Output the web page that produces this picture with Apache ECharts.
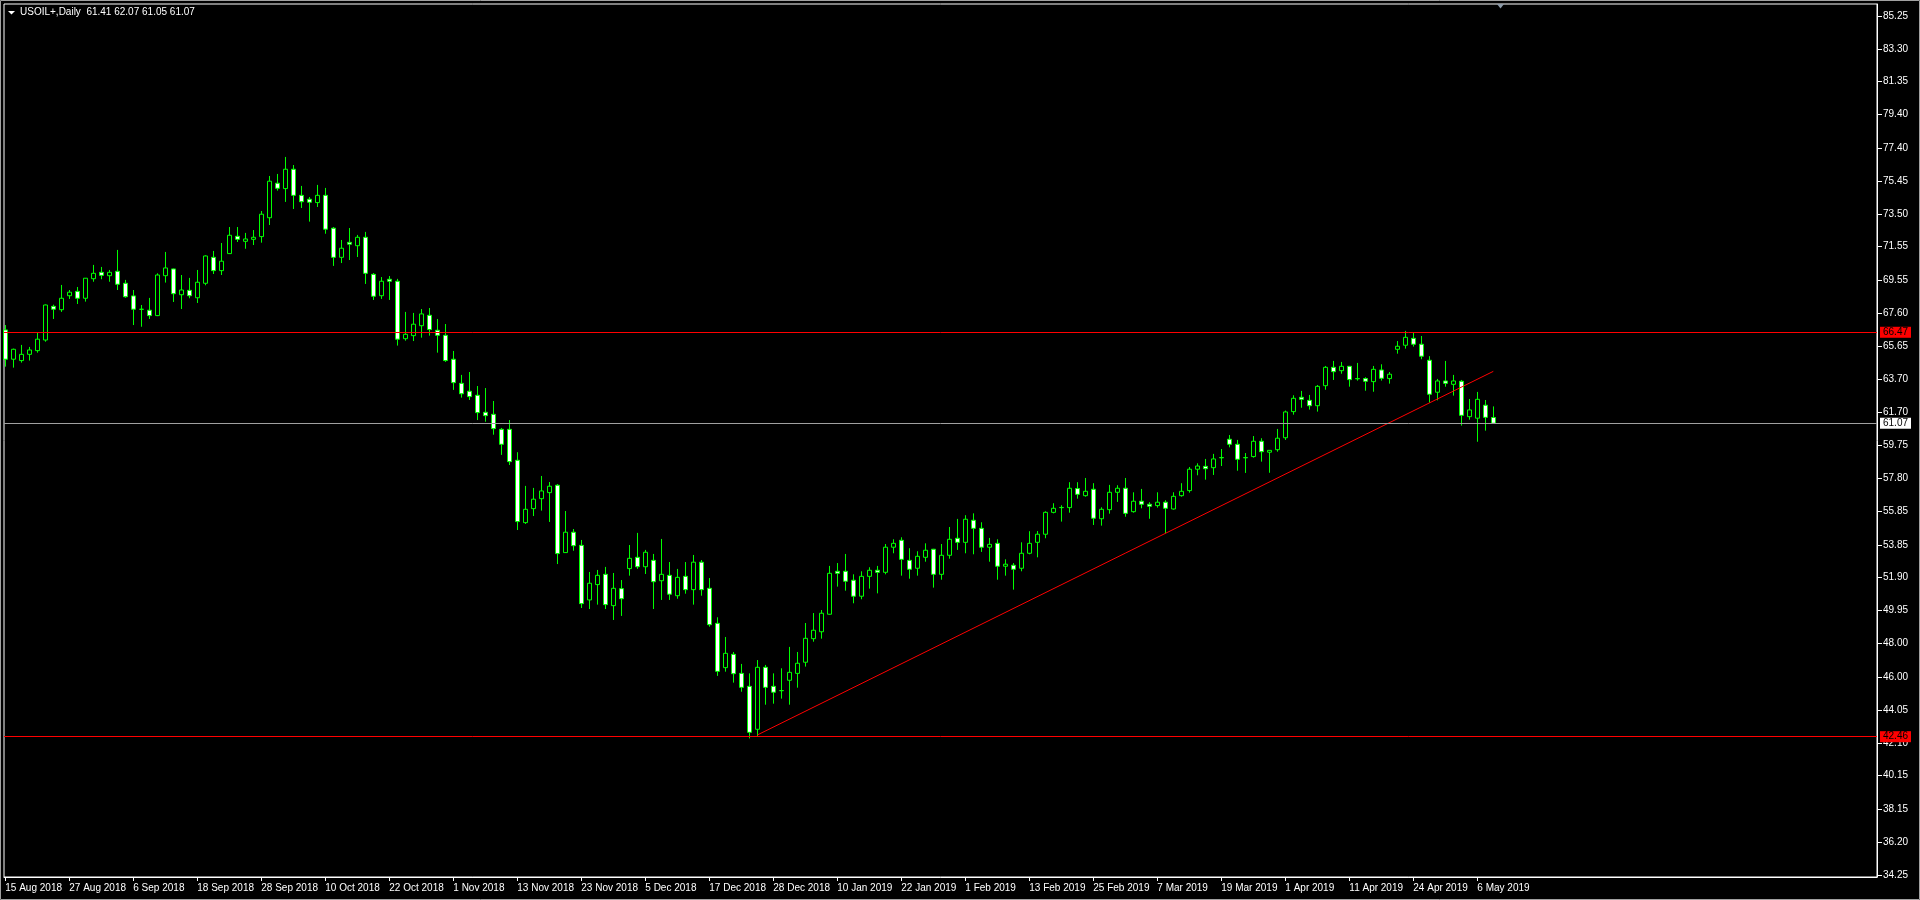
<!DOCTYPE html>
<html><head><meta charset="utf-8">
<script src="https://cdn.jsdelivr.net/npm/echarts@6/dist/echarts.min.js"></script>
<style>html,body{margin:0;padding:0;background:#000;}#c{width:1920px;height:900px;}</style>
</head><body><div id="c"></div>
<script>
const openP = [66.61,64.87,64.79,65.16,65.38,66.01,68.01,67.81,68.64,68.90,68.49,69.65,70.03,69.83,70.09,69.38,68.63,67.84,67.78,67.46,
69.83,70.23,68.70,68.96,68.52,69.38,70.92,70.13,71.14,72.17,71.87,71.99,72.15,73.27,75.32,75.00,76.15,74.60,74.37,74.17,
74.60,72.65,70.92,71.81,71.61,72.11,69.91,68.64,69.62,69.50,66.09,66.27,66.86,67.48,66.59,66.29,64.87,63.44,62.97,62.73,
61.72,61.60,60.71,60.71,58.87,55.17,56.00,56.59,56.95,57.39,53.39,54.60,53.82,50.58,51.49,52.10,50.24,51.25,52.44,53.11,
52.55,52.93,51.72,52.04,50.83,51.98,51.19,52.82,51.27,49.19,46.56,47.35,46.22,45.45,42.90,46.58,45.45,45.19,45.81,46.22,
46.88,48.28,48.69,49.73,52.28,52.28,51.75,50.80,51.98,52.34,52.22,53.71,54.12,52.93,52.46,53.11,53.59,52.10,53.23,54.24,
54.00,55.31,54.83,53.71,53.94,52.58,52.64,52.46,53.35,54.00,54.48,55.78,56.06,56.06,57.19,56.77,57.15,55.40,55.94,56.97,
57.21,55.82,56.44,56.26,56.18,56.38,55.98,56.77,57.07,58.34,58.51,58.43,59.03,60.12,59.82,59.03,59.09,60.00,59.35,59.50,
60.21,61.76,62.61,62.43,62.11,63.30,64.39,64.19,64.45,63.72,63.72,63.54,64.23,63.72,65.46,65.70,66.11,65.76,64.81,62.91,
63.58,63.38,63.56,61.46,61.37,62.14,61.41];
const highP = [66.90,65.50,65.72,65.60,66.45,68.12,68.11,69.28,68.98,69.16,69.69,70.47,70.35,70.17,71.36,69.58,68.98,68.09,68.51,69.97,
71.24,70.25,69.87,69.70,70.17,71.04,71.30,71.77,72.72,72.72,72.37,72.54,73.67,75.75,75.87,76.88,76.40,75.16,74.50,75.22,
75.04,72.72,71.95,72.66,72.25,72.43,69.99,69.75,69.81,69.64,67.68,67.62,67.85,67.91,67.26,66.96,65.36,63.94,64.11,63.28,
63.16,62.39,60.79,61.26,59.35,57.35,57.23,57.94,57.58,57.46,55.86,54.79,54.14,52.24,52.36,52.54,52.18,51.76,53.84,54.56,
53.55,53.31,54.20,52.83,52.42,52.83,53.25,52.95,51.88,49.55,48.38,47.49,46.78,46.22,47.01,46.72,46.22,46.52,47.79,47.49,
49.21,49.80,49.98,52.60,52.77,53.31,52.10,52.28,52.52,52.60,53.90,54.18,54.30,53.65,53.47,53.94,53.61,53.90,54.91,55.39,
55.61,55.72,55.19,54.26,54.18,52.99,52.77,54.00,54.66,54.67,55.84,56.32,56.20,57.57,57.57,57.82,57.51,56.08,57.41,57.39,
57.82,56.97,57.17,56.38,56.97,56.50,56.97,57.51,58.47,58.69,58.95,59.25,59.54,60.37,60.08,59.30,60.31,60.18,59.47,60.73,
61.82,62.73,62.99,62.75,63.34,64.47,64.77,64.71,64.47,64.65,63.80,64.47,64.57,64.11,65.95,66.55,66.43,66.25,65.05,63.70,
64.77,63.94,63.64,62.51,62.93,62.45,62.07];
const lowP = [64.43,64.37,64.67,64.79,65.26,65.91,67.26,67.68,68.45,68.15,68.29,69.47,69.62,69.47,68.98,68.52,66.90,66.80,67.26,67.43,
69.42,68.27,67.85,68.49,68.21,69.26,69.93,69.87,71.12,71.83,71.43,71.65,71.79,72.84,74.88,74.21,73.79,73.85,73.04,73.91,
72.32,70.41,70.58,70.76,70.94,69.34,68.39,68.45,68.39,65.68,65.97,65.95,66.15,66.27,65.26,64.71,63.05,62.59,62.45,61.26,
61.16,60.39,59.19,58.59,54.73,55.09,55.56,55.88,55.21,52.71,53.37,53.50,50.10,50.04,50.30,50.04,49.39,49.63,52.02,52.42,
52.12,50.04,50.58,50.58,50.65,50.95,50.30,50.83,48.99,46.07,46.32,45.67,45.13,42.36,42.50,44.36,44.42,44.72,44.36,45.37,
46.62,48.10,48.28,49.71,51.37,51.13,50.38,50.62,51.25,50.97,52.10,53.35,52.02,51.84,52.02,52.85,51.31,51.78,53.03,53.55,
53.35,53.29,53.43,52.85,51.78,52.02,51.19,52.28,53.29,53.11,54.24,55.72,55.23,55.76,56.59,56.71,55.03,54.99,55.70,56.40,
55.52,55.76,56.02,55.40,56.06,54.54,55.94,56.71,56.95,57.98,57.72,58.00,58.53,59.64,58.25,58.12,59.03,58.79,58.13,59.38,
60.08,61.58,61.99,61.88,61.76,63.06,63.64,64.01,63.24,63.60,63.00,62.94,63.60,63.42,65.20,65.50,65.62,64.87,62.29,62.43,
63.24,62.71,60.93,61.28,59.97,60.63,61.05];
const closeP = [64.87,65.46,65.16,65.42,66.06,68.09,67.84,68.49,68.85,68.49,69.68,69.97,69.85,70.03,69.32,68.58,67.84,67.83,67.46,69.87,
70.29,68.76,68.98,68.64,69.44,71.00,70.13,70.69,72.23,71.99,72.01,72.11,73.48,75.44,75.02,76.15,74.60,74.22,74.19,74.60,
72.59,70.92,71.46,71.70,72.11,69.97,68.61,69.50,69.50,66.06,66.35,66.95,67.56,66.63,66.29,64.79,63.48,62.82,62.65,61.70,
61.52,60.75,59.82,58.79,55.23,55.96,56.56,57.05,57.33,53.33,54.60,53.80,50.36,51.57,52.04,50.30,51.27,50.65,53.05,52.55,
53.41,51.66,52.10,50.92,51.92,51.19,52.82,51.19,49.11,46.34,47.41,46.20,45.39,42.72,46.58,45.39,45.10,45.20,46.28,46.82,
48.30,48.78,49.79,52.16,52.16,51.69,50.80,51.98,52.34,52.22,53.71,53.94,52.99,52.40,53.17,53.53,52.10,53.23,54.18,54.00,
55.37,54.83,53.71,53.88,52.58,52.70,52.40,53.35,53.94,54.48,55.78,56.02,56.07,57.21,56.85,57.03,55.43,55.96,56.97,57.21,
55.72,56.44,56.26,56.14,56.38,56.02,56.73,57.03,58.34,58.53,58.37,58.95,59.02,59.82,58.93,59.02,60.00,59.38,59.46,60.18,
61.74,62.55,62.49,62.11,63.26,64.39,64.13,64.45,63.66,63.71,63.56,64.27,63.74,63.98,65.64,66.17,65.76,65.05,62.79,63.58,
63.44,63.58,61.54,61.86,62.49,61.42,61.07];

const xTickIndex = [0,8,16,24,32,40,48,56,64,72,80,88,96,104,112,120,128,136,144,152,160,168,176,184];
const xTickLabels = ['15 Aug 2018','27 Aug 2018','6 Sep 2018','18 Sep 2018','28 Sep 2018','10 Oct 2018','22 Oct 2018','1 Nov 2018',
  '13 Nov 2018','23 Nov 2018','5 Dec 2018','17 Dec 2018','28 Dec 2018','10 Jan 2019','22 Jan 2019','1 Feb 2019','13 Feb 2019',
  '25 Feb 2019','7 Mar 2019','19 Mar 2019','1 Apr 2019','11 Apr 2019','24 Apr 2019','6 May 2019'];
const yTickLabels = ['85.25','83.30','81.35','79.40','77.40','75.45','73.50','71.55','69.55','67.60','65.65','63.70','61.70',
  '59.75','57.80','55.85','53.85','51.90','49.95','48.00','46.00','44.05','42.10','40.15','38.15','36.20','34.25'];
const trendX = [94, 186];
const trendY = [42.56, 64.15];
const levelValues = [66.47, 61.07, 42.46];
const levelColors = ['#ff0000', '#a0a0a0', '#ff0000'];
const levelLabelBg = ['#ff0000', '#ffffff', '#ff0000'];
const titleText = 'USOIL+,Daily  61.41 62.07 61.05 61.07';

const FONT = 'Liberation Sans';
const yTickValues = yTickLabels.map(Number);
const candles = openP.map((o, i) => [i, o, closeP[i], lowP[i], highP[i]]);

const chart = echarts.init(document.getElementById('c'), null, {renderer: 'canvas'});
chart.setOption({
  backgroundColor: '#000',
  animation: false,
  grid: {left: 4, right: 43, top: 4, bottom: 23, show: true, borderColor: '#ffffff', borderWidth: 1, backgroundColor: '#000'},
  xAxis: {
    type: 'value', min: -0.16, max: 233.96,
    splitLine: {show: false},
    axisLine: {show: true, onZero: false, lineStyle: {color: '#ffffff'}},
    axisTick: {show: true, customValues: xTickIndex, length: 4, lineStyle: {color: '#ffffff'}},
    axisLabel: {
      customValues: xTickIndex,
      formatter: v => { const k = xTickIndex.indexOf(Math.round(v)); return k >= 0 ? xTickLabels[k] : ''; },
      color: '#ffffff', fontFamily: FONT, fontSize: 10, align: 'left', margin: 6
    }
  },
  yAxis: {
    type: 'value', position: 'right', min: 34.13, max: 85.96,
    splitLine: {show: false},
    axisLine: {show: true, onZero: false, lineStyle: {color: '#ffffff'}},
    axisTick: {show: true, customValues: yTickValues, length: 5, lineStyle: {color: '#ffffff'}},
    axisLabel: {
      customValues: yTickValues,
      formatter: v => Number(v).toFixed(2),
      color: '#ffffff', fontFamily: FONT, fontSize: 10, align: 'left', margin: 6
    }
  },
  series: [
    {
      type: 'candlestick', data: candles, encode: {x: 0, y: [1, 2, 3, 4]},
      barWidth: 4,
      itemStyle: {color: '#000000', color0: '#ffffff', borderColor: '#00ff00', borderColor0: '#00ff00', borderWidth: 1},
      markLine: {
        silent: true, symbol: ['none', 'none'], animation: false,
        data: levelValues.map((v, i) => ({
          yAxis: v,
          lineStyle: {color: levelColors[i], width: 1, type: 'solid'},
          label: {show: true, position: 'end', distance: 3, formatter: v.toFixed(2),
            backgroundColor: levelLabelBg[i], color: '#000000', fontFamily: FONT, fontSize: 10, padding: [1, 3, 0, 3]}
        }))
      },
      z: 2
    },
    {
      type: 'line', data: trendX.map((x, i) => [x, trendY[i]]), symbol: 'none', silent: true,
      lineStyle: {color: '#ff0000', width: 1}, z: 3
    }
  ],
  graphic: [
    {type: 'rect', shape: {x: 0.5, y: 0.5, width: 1919, height: 899}, style: {fill: 'none', stroke: '#a0a0a0', lineWidth: 1}, silent: true, z: 100},
    {type: 'polygon', shape: {points: [[8, 11], [15, 11], [11.5, 14.5]]}, style: {fill: '#ffffff'}, z: 100},
    {type: 'text', x: 20, y: 12.5, style: {text: titleText, fill: '#ffffff', font: '10px "Liberation Sans"', textVerticalAlign: 'middle'}, z: 100},
    {type: 'polygon', shape: {points: [[1497, 4], [1504, 4], [1500.5, 8.5]]}, style: {fill: '#8c9aa8'}, z: 100}
  ]
});
</script></body></html>
